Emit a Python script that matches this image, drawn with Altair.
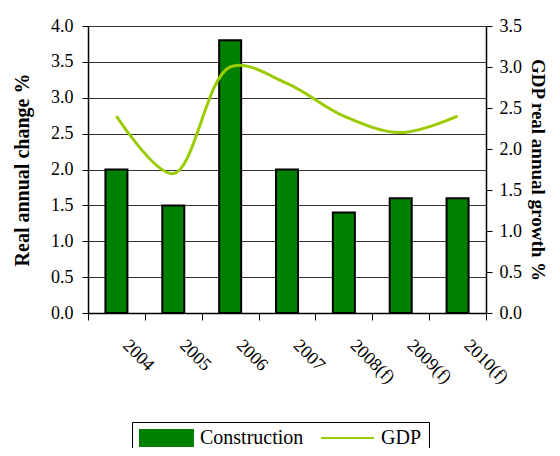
import altair as alt
import pandas as pd

years = ["2004", "2005", "2006", "2007", "2008(f)", "2009(f)", "2010(f)"]
construction = [2.0, 1.5, 3.8, 2.0, 1.4, 1.6, 1.6]
gdp = [2.4, 1.7, 3.0, 2.8, 2.4, 2.2, 2.4]

series_names = ["Construction", "GDP"]
series_colors = ["#008000", "#99CC00"]

df = pd.DataFrame({"year": years, "construction": construction, "gdp": gdp})

FONT = "Liberation Serif"

x_enc = alt.X(
    "year:N",
    sort=years,
    scale=alt.Scale(paddingInner=0, paddingOuter=0),
    axis=alt.Axis(
        title=None,
        labelAngle=45,
        labelAlign="left",
        labelBaseline="top",
        labelPadding=16,
        labelOffset=15,
        labelFontSize=18,
        labelFont=FONT,
        labelColor="#000",
        tickBand="extent",
        tickSize=7,
        tickColor="#000",
        domainColor="#000",
        domainWidth=1.5,
        grid=False,
    ),
)

color_scale = alt.Scale(domain=series_names, range=series_colors)

legend = alt.Legend(
    title=None,
    orient="none",
    legendX=44,
    legendY=396,
    direction="horizontal",
    columns=2,
    strokeColor="#000",
    padding=7,
    labelFont=FONT,
    labelFontSize=20,
    labelColor="#000",
    labelOffset=6,
    columnPadding=16,
    clipHeight=18,
    symbolSize=2809,
    symbolStrokeWidth=2,
    symbolType={"expr": "datum.label == 'GDP' ? 'M-1,0H1' : 'M-1,-0.3H1V0.3H-1Z'"},
    symbolFillColor={"expr": "datum.label == 'GDP' ? 'transparent' : '#008000'"},
    symbolStrokeColor={"expr": "datum.label == 'GDP' ? '#99CC00' : '#000'"},
)

bars = alt.Chart(df).transform_calculate(series="'Construction'").mark_bar(
    size=22, stroke="#000", strokeWidth=2
).encode(
    x=x_enc,
    y=alt.Y(
        "construction:Q",
        scale=alt.Scale(domain=[0, 4]),
        axis=alt.Axis(
            title="Real annual change %",
            titleFont=FONT,
            titleFontSize=20,
            titleFontWeight="bold",
            titleColor="#000",
            titlePadding=18,
            values=[0, 0.5, 1, 1.5, 2, 2.5, 3, 3.5, 4],
            format=".1f",
            labelFont=FONT,
            labelFontSize=18,
            labelColor="#000",
            labelPadding=9,
            tickSize=6,
            tickColor="#000",
            domainColor="#000",
            domainWidth=1.5,
            grid=True,
            gridColor="#333",
            gridWidth=1,
        ),
    ),
    color=alt.Color("series:N", scale=color_scale, legend=legend),
)

line = alt.Chart(df).transform_calculate(series="'GDP'").mark_line(
    strokeWidth=3, interpolate="catmull-rom"
).encode(
    x=x_enc,
    y=alt.Y(
        "gdp:Q",
        scale=alt.Scale(domain=[0, 3.5]),
        axis=alt.Axis(
            title="GDP real annual growth %",
            orient="right",
            titleFont=FONT,
            titleFontSize=19,
            titleFontWeight="bold",
            titleColor="#000",
            titlePadding=6,
            values=[0, 0.5, 1, 1.5, 2, 2.5, 3, 3.5],
            format=".1f",
            labelFont=FONT,
            labelFontSize=18,
            labelColor="#000",
            labelPadding=7,
            tickSize=6,
            tickColor="#000",
            domainColor="#000",
            domainWidth=1.5,
            grid=False,
        ),
    ),
    color=alt.Color("series:N", scale=color_scale, legend=legend),
)

chart = (
    alt.layer(bars, line)
    .resolve_scale(y="independent")
    .properties(
        width=398,
        height=287,
        autosize=alt.AutoSizeParams(type="none"),
        padding={"left": 80, "top": 18, "right": 66, "bottom": 135},
    )
    .configure_view(stroke="#888", strokeWidth=1.5)
    .configure(background="white")
)

chart.save("out.html", embed_options={"renderer": "svg", "actions": False})
